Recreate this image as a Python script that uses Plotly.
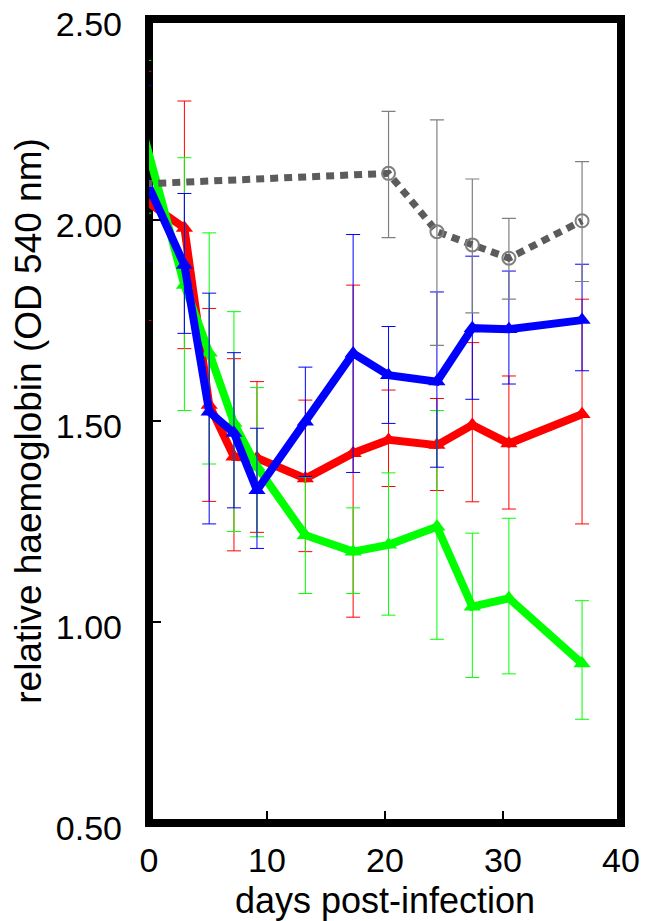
import plotly.graph_objects as go

# ---- data ----
days = [-0.4, 3.0, 5.1, 7.2, 9.15, 13.25, 17.3, 20.3, 24.4, 27.4, 30.5, 36.7]

red_y = [2.05, 1.98, 1.54, 1.411, 1.408, 1.357, 1.42, 1.453, 1.44, 1.49, 1.444, 1.517]
red_up = [0.32, 0.316, 0.24, 0.244, 0.19, 0.195, 0.418, 0.124, 0.116, 0.205, 0.168, 0.286]
red_dn = [0.30, 0.30, 0.24, 0.234, 0.185, 0.182, 0.408, 0.116, 0.113, 0.191, 0.163, 0.273]

green_y = [2.207, 1.838, 1.67, 1.495, 1.386, 1.216, 1.175, 1.192, 1.237, 1.038, 1.059, 0.897]
green_up = [0.19, 0.317, 0.298, 0.277, 0.197, 0.145, 0.109, 0.179, 0.289, 0.183, 0.199, 0.156]
green_dn = [0.19, 0.312, 0.277, 0.27, 0.174, 0.145, 0.104, 0.175, 0.28, 0.176, 0.188, 0.139]

blue_y = [2.108, 1.888, 1.523, 1.47, 1.328, 1.498, 1.668, 1.614, 1.598, 1.731, 1.728, 1.751]
blue_up = [0.227, 0.178, 0.295, 0.2, 0.154, 0.136, 0.296, 0.121, 0.223, 0.179, 0.145, 0.139]
blue_dn = [0.21, 0.17, 0.279, 0.186, 0.145, 0.136, 0.296, 0.12, 0.213, 0.177, 0.136, 0.126]

gray_days = [-0.4, 20.3, 24.4, 27.4, 30.5, 36.7]
gray_y = [2.09, 2.116, 1.971, 1.938, 1.905, 1.998]
gray_up = [0.0, 0.154, 0.278, 0.164, 0.099, 0.147]
gray_dn = [0.0, 0.16, 0.283, 0.169, 0.102, 0.151]

x_ticks = [0, 10, 20, 30, 40]
y_ticks = [0.5, 1.0, 1.5, 2.0, 2.5]

FONT = "Liberation Sans, Arial, sans-serif"

fig = go.Figure()


def tri_trace(y, up, dn, color):
    return go.Scatter(
        x=days, y=y, mode="lines+markers",
        line=dict(color=color, width=8),
        marker=dict(symbol="triangle-up", size=15, color=color),
        error_y=dict(type="data", symmetric=False, array=up, arrayminus=dn,
                     color=color, thickness=1, width=7),
        cliponaxis=False, showlegend=False,
    )


fig.add_trace(tri_trace(red_y, red_up, red_dn, "#ff0000"))
fig.add_trace(tri_trace(green_y, green_up, green_dn, "#00ff00"))
fig.add_trace(tri_trace(blue_y, blue_up, blue_dn, "#0000ff"))
fig.add_trace(go.Scatter(
    x=gray_days, y=gray_y, mode="lines+markers",
    line=dict(color="#5c5c5c", width=7, dash="8px,6px"),
    marker=dict(symbol="circle-open", size=13, color="#808080", line=dict(width=2)),
    error_y=dict(type="data", symmetric=False, array=gray_up, arrayminus=gray_dn,
                 color="#808080", thickness=1.2, width=7),
    cliponaxis=False, showlegend=False,
))

fig.add_shape(type="rect", xref="x domain", yref="y domain", x0=0, x1=1, y0=0, y1=1,
              line=dict(color="black", width=8), layer="below")

# the page body adds an 8px margin, so the figure is 8px smaller and margins compensate
fig.update_layout(
    width=642, height=913,
    margin=dict(l=141, r=29, t=11, b=98),
    paper_bgcolor="white", plot_bgcolor="white",
    font=dict(family=FONT, color="black"),
    xaxis=dict(range=[0, 40], tickvals=x_ticks, ticks="inside", ticklen=12, tickwidth=1.5,
               tickcolor="black", showline=False, showgrid=False, zeroline=False,
               automargin=False, ticklabeloverflow="allow",
               tickfont=dict(size=34, family=FONT), ticklabelstandoff=14,
               title=dict(text="days post-infection", font=dict(size=36, family=FONT), standoff=16)),
    yaxis=dict(range=[0.5, 2.5], tickvals=y_ticks, tickformat=".2f", ticks="inside", ticklen=12,
               tickwidth=1.5, tickcolor="black", showline=False, showgrid=False, zeroline=False,
               automargin=False, ticklabeloverflow="allow",
               tickfont=dict(size=34, family=FONT), ticklabelstandoff=26, ticklabelshift=5,
               title=dict(text="relative haemoglobin (OD 540 nm)", font=dict(size=37, family=FONT),
                          standoff=18)),
)

fig.write_html("out.html")
